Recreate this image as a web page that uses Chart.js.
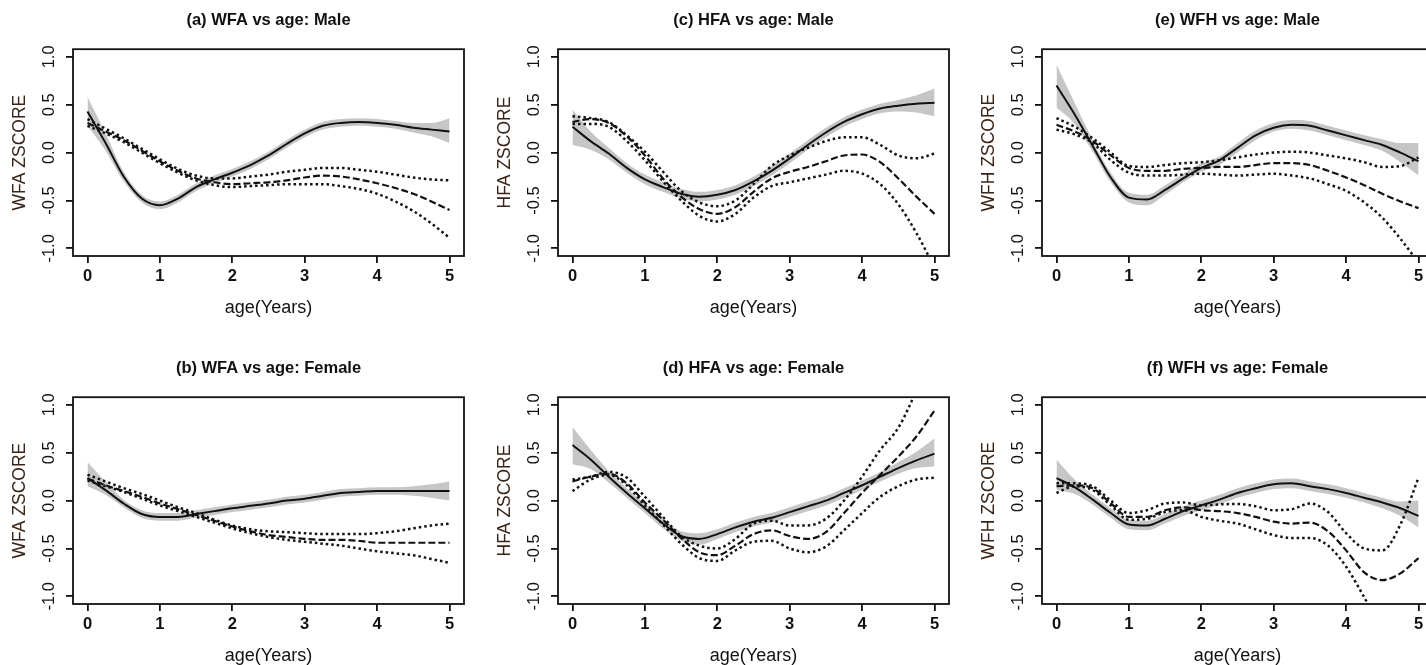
<!DOCTYPE html>
<html>
<head>
<meta charset="utf-8">
<script src="https://cdn.jsdelivr.net/npm/chart.js@4.4.1/dist/chart.umd.min.js"></script>
<style>
  html, body { margin: 0; padding: 0; background: #fff; width: 1426px; height: 665px; overflow: hidden; }
  canvas { position: absolute; }
</style>
</head>
<body>
<canvas id="pa" width="475" height="330" style="left:0px;top:0px"></canvas>
<canvas id="pc" width="475" height="330" style="left:485px;top:0px"></canvas>
<canvas id="pe" width="475" height="330" style="left:969px;top:0px"></canvas>
<canvas id="pb" width="475" height="330" style="left:0px;top:348px"></canvas>
<canvas id="pd" width="475" height="330" style="left:485px;top:348px"></canvas>
<canvas id="pf" width="475" height="330" style="left:969px;top:348px"></canvas>
<script>
// age grid (years) shared by every curve
const ages = [0, 0.25, 0.5, 0.75, 1, 1.25, 1.5, 1.75, 2, 2.25, 2.5, 2.75, 3, 3.25, 3.5, 3.75, 4, 4.25, 4.5, 4.75, 5];
const xTicks = [0, 1, 2, 3, 4, 5];
const yTicks = [-1, -0.5, 0, 0.5, 1];

// (a) WFA male
const aFit    = [0.43, 0.10, -0.25, -0.48, -0.55, -0.48, -0.36, -0.28, -0.21, -0.13, -0.03, 0.09, 0.20, 0.28, 0.31, 0.32, 0.31, 0.29, 0.26, 0.24, 0.22];
const aBandHi = [0.58, 0.20, -0.20, -0.44, -0.51, -0.44, -0.32, -0.24, -0.17, -0.09, 0.01, 0.13, 0.24, 0.32, 0.35, 0.36, 0.35, 0.33, 0.31, 0.31, 0.36];
const aBandLo = [0.28, 0.02, -0.30, -0.52, -0.59, -0.52, -0.40, -0.32, -0.25, -0.17, -0.07, 0.05, 0.16, 0.24, 0.27, 0.28, 0.27, 0.25, 0.21, 0.17, 0.10];
const aMid    = [0.31, 0.22, 0.13, 0.02, -0.09, -0.19, -0.27, -0.31, -0.33, -0.32, -0.31, -0.29, -0.26, -0.24, -0.25, -0.28, -0.32, -0.37, -0.43, -0.51, -0.60];
const aTop    = [0.35, 0.25, 0.15, 0.04, -0.07, -0.17, -0.24, -0.27, -0.27, -0.25, -0.23, -0.20, -0.18, -0.16, -0.16, -0.18, -0.20, -0.23, -0.26, -0.28, -0.29];
const aBot    = [0.28, 0.20, 0.11, 0.00, -0.11, -0.21, -0.29, -0.34, -0.36, -0.35, -0.34, -0.33, -0.33, -0.33, -0.35, -0.38, -0.43, -0.51, -0.61, -0.74, -0.89];

// (b) WFA female
const bFit    = [0.235, 0.11, -0.03, -0.14, -0.17, -0.17, -0.14, -0.11, -0.08, -0.055, -0.03, 0.00, 0.02, 0.05, 0.08, 0.09, 0.10, 0.10, 0.10, 0.10, 0.10];
const bBandHi = [0.40, 0.20, 0.01, -0.10, -0.13, -0.13, -0.10, -0.07, -0.04, -0.015, 0.01, 0.04, 0.06, 0.09, 0.12, 0.13, 0.14, 0.14, 0.15, 0.17, 0.20];
const bBandLo = [0.15, 0.06, -0.07, -0.18, -0.21, -0.21, -0.18, -0.15, -0.12, -0.095, -0.07, -0.04, -0.02, 0.01, 0.04, 0.05, 0.06, 0.06, 0.05, 0.03, 0.00];
const bMid    = [0.23, 0.16, 0.10, 0.04, -0.03, -0.09, -0.15, -0.21, -0.27, -0.32, -0.36, -0.38, -0.40, -0.41, -0.41, -0.42, -0.44, -0.44, -0.44, -0.44, -0.44];
const bTop    = [0.27, 0.20, 0.13, 0.07, 0.00, -0.07, -0.13, -0.20, -0.26, -0.30, -0.32, -0.33, -0.34, -0.35, -0.35, -0.35, -0.34, -0.32, -0.29, -0.26, -0.24];
const bBot    = [0.21, 0.15, 0.09, 0.02, -0.05, -0.11, -0.17, -0.23, -0.29, -0.34, -0.38, -0.41, -0.43, -0.45, -0.47, -0.50, -0.53, -0.55, -0.57, -0.61, -0.65];

// (c) HFA male
const cFit    = [0.27, 0.12, -0.01, -0.16, -0.28, -0.36, -0.43, -0.46, -0.44, -0.39, -0.30, -0.19, -0.06, 0.08, 0.21, 0.32, 0.40, 0.46, 0.49, 0.51, 0.52];
const cBandHi = [0.45, 0.22, 0.05, -0.11, -0.23, -0.31, -0.38, -0.41, -0.39, -0.34, -0.25, -0.14, -0.01, 0.13, 0.26, 0.37, 0.45, 0.51, 0.55, 0.60, 0.67];
const cBandLo = [0.08, 0.03, -0.07, -0.21, -0.33, -0.41, -0.48, -0.51, -0.49, -0.44, -0.35, -0.24, -0.11, 0.03, 0.16, 0.27, 0.35, 0.41, 0.43, 0.42, 0.38];
const cMid    = [0.32, 0.35, 0.31, 0.17, -0.03, -0.27, -0.46, -0.59, -0.64, -0.57, -0.41, -0.27, -0.20, -0.15, -0.09, -0.03, -0.02, -0.10, -0.27, -0.46, -0.64];
const cTop    = [0.38, 0.36, 0.32, 0.18, 0.01, -0.20, -0.40, -0.52, -0.56, -0.50, -0.33, -0.14, -0.03, 0.05, 0.12, 0.16, 0.16, 0.08, -0.03, -0.06, -0.01];
const cBot    = [0.30, 0.30, 0.27, 0.12, -0.08, -0.30, -0.50, -0.66, -0.72, -0.64, -0.47, -0.35, -0.31, -0.27, -0.23, -0.19, -0.22, -0.33, -0.54, -0.84, -1.20];

// (d) HFA female
const dFit    = [0.58, 0.43, 0.25, 0.08, -0.08, -0.24, -0.37, -0.40, -0.35, -0.28, -0.22, -0.18, -0.12, -0.06, 0.00, 0.08, 0.16, 0.25, 0.34, 0.42, 0.49];
const dBandHi = [0.77, 0.53, 0.31, 0.13, -0.03, -0.19, -0.32, -0.34, -0.30, -0.23, -0.17, -0.13, -0.07, -0.01, 0.05, 0.13, 0.21, 0.30, 0.40, 0.51, 0.65];
const dBandLo = [0.38, 0.33, 0.19, 0.03, -0.13, -0.29, -0.42, -0.46, -0.40, -0.33, -0.27, -0.23, -0.17, -0.11, -0.05, 0.03, 0.11, 0.20, 0.28, 0.34, 0.36];
const dMid    = [0.20, 0.25, 0.28, 0.18, -0.02, -0.20, -0.39, -0.54, -0.57, -0.47, -0.35, -0.31, -0.37, -0.40, -0.33, -0.13, 0.08, 0.27, 0.46, 0.67, 0.94];
const dTop    = [0.22, 0.25, 0.30, 0.24, 0.04, -0.17, -0.37, -0.47, -0.50, -0.40, -0.24, -0.21, -0.26, -0.26, -0.19, 0.00, 0.25, 0.53, 0.76, 1.15, 1.60];
const dBot    = [0.10, 0.22, 0.27, 0.16, -0.05, -0.25, -0.45, -0.60, -0.63, -0.52, -0.43, -0.42, -0.50, -0.54, -0.48, -0.31, -0.13, 0.04, 0.15, 0.22, 0.24];

// (e) WFH male
const eFit    = [0.70, 0.40, 0.07, -0.26, -0.47, -0.49, -0.39, -0.27, -0.16, -0.08, 0.05, 0.18, 0.26, 0.29, 0.28, 0.23, 0.18, 0.13, 0.08, 0.00, -0.09];
const eBandHi = [0.92, 0.52, 0.13, -0.21, -0.42, -0.44, -0.34, -0.22, -0.11, -0.04, 0.10, 0.23, 0.31, 0.34, 0.33, 0.28, 0.23, 0.18, 0.14, 0.10, 0.10];
const eBandLo = [0.47, 0.30, 0.01, -0.31, -0.52, -0.55, -0.44, -0.31, -0.20, -0.13, 0.00, 0.13, 0.22, 0.25, 0.23, 0.18, 0.13, 0.08, 0.02, -0.10, -0.24];
const eMid    = [0.29, 0.22, 0.12, -0.03, -0.16, -0.19, -0.19, -0.17, -0.16, -0.15, -0.15, -0.13, -0.11, -0.11, -0.13, -0.19, -0.26, -0.34, -0.43, -0.51, -0.58];
const eTop    = [0.36, 0.27, 0.15, 0.00, -0.14, -0.15, -0.13, -0.11, -0.10, -0.08, -0.05, -0.02, 0.00, 0.01, 0.00, -0.03, -0.06, -0.10, -0.15, -0.14, -0.05];
const eBot    = [0.24, 0.19, 0.10, -0.08, -0.21, -0.24, -0.24, -0.23, -0.22, -0.23, -0.24, -0.23, -0.22, -0.24, -0.27, -0.33, -0.40, -0.52, -0.68, -0.90, -1.15];

// (f) WFH female
const fFit    = [0.235, 0.14, 0.01, -0.13, -0.25, -0.26, -0.19, -0.11, -0.05, 0.01, 0.08, 0.13, 0.17, 0.18, 0.15, 0.12, 0.08, 0.03, -0.02, -0.08, -0.16];
const fBandHi = [0.43, 0.22, 0.06, -0.08, -0.20, -0.21, -0.14, -0.06, 0.00, 0.06, 0.13, 0.18, 0.22, 0.23, 0.20, 0.17, 0.13, 0.08, 0.03, -0.01, 0.00];
const fBandLo = [0.11, 0.07, -0.04, -0.18, -0.30, -0.31, -0.24, -0.16, -0.10, -0.04, 0.03, 0.08, 0.12, 0.13, 0.10, 0.07, 0.03, -0.02, -0.08, -0.16, -0.28];
const fMid    = [0.15, 0.16, 0.13, -0.03, -0.17, -0.17, -0.10, -0.07, -0.10, -0.11, -0.13, -0.17, -0.22, -0.24, -0.23, -0.32, -0.52, -0.75, -0.83, -0.76, -0.60];
const fTop    = [0.18, 0.18, 0.15, 0.00, -0.13, -0.10, -0.03, -0.02, -0.05, -0.04, -0.035, -0.06, -0.10, -0.09, -0.03, -0.12, -0.34, -0.50, -0.52, -0.25, 0.24];
const fBot    = [0.08, 0.15, 0.11, -0.05, -0.20, -0.19, -0.12, -0.10, -0.17, -0.21, -0.24, -0.30, -0.36, -0.39, -0.39, -0.47, -0.69, -1.01, -1.35, -1.70, -2.00];

const FONT = "'Liberation Sans', Arial, sans-serif";
const INK = '#111';

// plot box around the chart area, like R's box()
const boxPlugin = {
  id: 'box',
  afterDatasetsDraw(chart) {
    const a = chart.chartArea;
    const ctx = chart.ctx;
    ctx.save();
    ctx.strokeStyle = INK;
    ctx.lineWidth = 1.8;
    ctx.strokeRect(a.left, a.top, a.right - a.left, a.bottom - a.top);
    ctx.restore();
  }
};

function pts(arr) {
  return ages.map((a, i) => ({ x: a, y: arr[i] }));
}

function line(arr, dash, width) {
  return {
    data: pts(arr),
    borderColor: INK,
    borderWidth: width,
    borderDash: dash,
    pointRadius: 0,
    fill: false,
    cubicInterpolationMode: 'monotone',
    clip: 0
  };
}

function panel(id, title, ylab, fit, hi, lo, mid, top, bot) {
  const datasets = [
    line(fit, [], 2),
    line(mid, [7, 3], 2.2),
    line(top, [2.5, 3], 2.5),
    line(bot, [2.5, 3], 2.5),
    { data: pts(hi), borderWidth: 0, pointRadius: 0, backgroundColor: '#c6c6c6', fill: '+1', cubicInterpolationMode: 'monotone', clip: 0 },
    { data: pts(lo), borderWidth: 0, pointRadius: 0, fill: false, cubicInterpolationMode: 'monotone', clip: 0 }
  ];
  const tickGrid = { drawOnChartArea: false, drawTicks: true, tickLength: 7, color: INK, lineWidth: 1.8 };
  new Chart(document.getElementById(id), {
    type: 'line',
    data: { datasets: datasets },
    plugins: [boxPlugin],
    options: {
      responsive: false,
      animation: false,
      devicePixelRatio: 1,
      layout: { padding: { left: 0, right: 11, top: 0, bottom: 0 } },
      plugins: {
        legend: { display: false },
        tooltip: { enabled: false },
        title: {
          display: true, text: title, fullSize: false, color: INK,
          font: { family: FONT, size: 16.5, weight: 'bold' },
          padding: { top: 11, bottom: 18.4 }
        }
      },
      scales: {
        x: {
          type: 'linear', min: -0.2, max: 5.2,
          afterBuildTicks: s => { s.ticks = xTicks.map(v => ({ value: v })); },
          afterFit: s => { s.height = 74; },
          grid: tickGrid,
          border: { display: false },
          ticks: { padding: 4, color: INK, maxRotation: 0, autoSkip: false, font: { family: FONT, size: 16.5, weight: 'bold' } },
          title: { display: true, text: 'age(Years)', color: INK, font: { family: FONT, size: 18 }, padding: { top: 0, bottom: 11 } }
        },
        y: {
          type: 'linear', min: -1.08, max: 1.08,
          afterBuildTicks: s => { s.ticks = yTicks.map(v => ({ value: v })); },
          afterFit: s => { s.width = 73; },
          grid: tickGrid,
          border: { display: false },
          ticks: {
            minRotation: 90, maxRotation: 90, crossAlign: 'center', padding: 2, color: INK,
            font: { family: FONT, size: 16.5 },
            callback: v => v.toFixed(1)
          },
          title: { display: true, text: ylab, color: '#3a2418', font: { family: FONT, size: 17.5 }, padding: { top: 10, bottom: 0 } }
        }
      }
    }
  });
}

panel('pa', '(a) WFA vs age: Male', 'WFA ZSCORE', aFit, aBandHi, aBandLo, aMid, aTop, aBot);
panel('pb', '(b) WFA vs age: Female', 'WFA ZSCORE', bFit, bBandHi, bBandLo, bMid, bTop, bBot);
panel('pc', '(c) HFA vs age: Male', 'HFA ZSCORE', cFit, cBandHi, cBandLo, cMid, cTop, cBot);
panel('pd', '(d) HFA vs age: Female', 'HFA ZSCORE', dFit, dBandHi, dBandLo, dMid, dTop, dBot);
panel('pe', '(e) WFH vs age: Male', 'WFH ZSCORE', eFit, eBandHi, eBandLo, eMid, eTop, eBot);
panel('pf', '(f) WFH vs age: Female', 'WFH ZSCORE', fFit, fBandHi, fBandLo, fMid, fTop, fBot);
</script>
</body>
</html>
